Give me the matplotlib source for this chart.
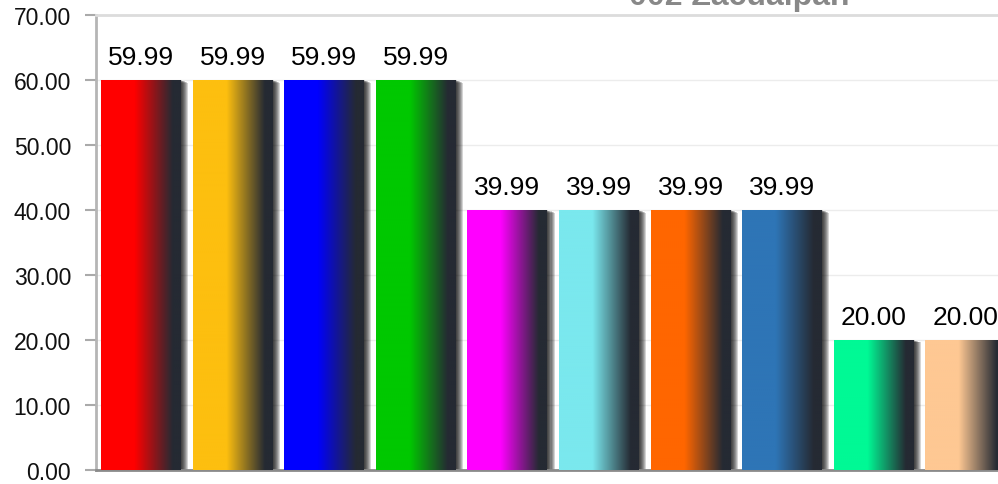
import numpy as np
import matplotlib

matplotlib.use("Agg")
import matplotlib.pyplot as plt
import matplotlib.patheffects as pe
from matplotlib.colors import to_rgb

plt.rcParams["font.family"] = ["Liberation Sans", "DejaVu Sans"]

# data
categories = ["c1", "c2", "c3", "c4", "c5", "c6", "c7", "c8", "c9", "c10"]
values = [59.99, 59.99, 59.99, 59.99, 39.99, 39.99, 39.99, 39.99, 20.00, 20.00]
colors = ["#ff0000", "#fdbf0f", "#0000ff", "#00c800", "#ff00ff",
          "#7ae8ee", "#ff6600", "#2e75b6", "#00f995", "#fec893"]
title = "002 Zacualpan"

DARK = np.array(to_rgb("#252a33"))
BAR_W = 0.873

fig = plt.figure(figsize=(9.98, 4.85), dpi=100)
ax = fig.add_axes([0.0962, 0.0289, 0.918, 0.938])

x = np.arange(len(categories))
shadow = [pe.SimplePatchShadow(offset=(i * 0.75, -i * 0.25), shadow_rgbFace="black", alpha=0.17)
          for i in range(1, 8)]
bars = ax.bar(x, values, width=BAR_W, color=colors, zorder=2,
              path_effects=shadow + [pe.Normal()])

# horizontal gradient: solid colour, then fade to dark slate on the right
t = np.linspace(0, 1, 200)
mix = np.interp(t, [0, 0.42, 0.9, 1], [0, 0, 1, 1])
for b, c in zip(bars, colors):
    base = np.array(to_rgb(c))
    grad = (1 - mix)[:, None] * base + mix[:, None] * DARK
    x0 = b.get_x()
    ax.imshow(grad[None, :, :], extent=(x0, x0 + b.get_width(), 0, b.get_height()),
              aspect="auto", interpolation="bilinear", zorder=3)

ax.bar_label(bars, labels=[f"{v:.2f}" for v in values], padding=8, fontsize=19, zorder=4)

ax.set_xlim(-0.49, 9.51)
ax.set_ylim(0, 70)
ax.set_yticks(np.arange(0, 71, 10))
ax.set_yticklabels([f"{v:.2f}" for v in np.arange(0, 71, 10)])
ax.set_xticks([])
ax.tick_params(axis="y", labelsize=16.5, length=8, width=1.5, color="#aaaaaa", pad=10,
               labelcolor="#111111")
ax.yaxis.grid(True, color="#ececec", lw=1)
ax.set_axisbelow(True)

for side in ("left", "bottom", "top", "right"):
    ax.spines[side].set_linewidth(2)
ax.spines["left"].set_color("#b5b5b5")
ax.spines["bottom"].set_color("#8a8a8a")
ax.spines["top"].set_color("#dcdcdc")
ax.spines["right"].set_visible(False)

fig.text(0.741, 0.9897, title, ha="center", va="baseline", fontsize=23,
         fontweight="bold", color="#888888")

fig.savefig("out.png", dpi=100)
